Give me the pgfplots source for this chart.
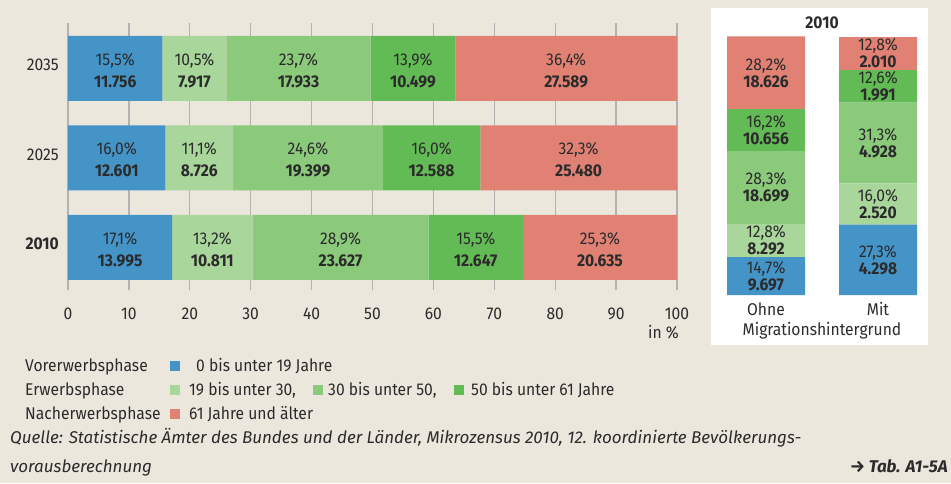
\documentclass[border=0pt]{standalone}
\usepackage{pgfplots}
\pgfplotsset{compat=1.18}
\usepackage{pgfplotstable}
\usepackage{fontspec}
\setmainfont{Fira Sans}[FakeStretch=0.92]
\newfontfamily\srcfont{Fira Sans}
\definecolor{bg}{HTML}{ECE7DD}
\definecolor{cA}{HTML}{4494C8}
\definecolor{cB}{HTML}{A9D69B}
\definecolor{cC}{HTML}{8BC97B}
\definecolor{cD}{HTML}{63BB55}
\definecolor{cE}{HTML}{E08174}
\definecolor{txt}{HTML}{2B2B2B}
\definecolor{gridc}{HTML}{B2B2B2}
\pgfplotsset{/pgf/number format/assume math mode=true}

\pgfplotstableread{
pos pA aA pB aB pC aC pD aD pE aE
0 17.1 13.995 13.2 10.811 28.9 23.627 15.5 12.647 25.3 20.635
1 16.0 12.601 11.1 8.726 24.6 19.399 16.0 12.588 32.3 25.480
2 15.5 11.756 10.5 7.917 23.7 17.933 13.9 10.499 36.4 27.589
}\lefttab
\pgfplotstableread{
pos pA aA pB aB pC aC pD aD pE aE
0 14.7 9.697 12.8 8.292 28.3 18.699 16.2 10.656 28.2 18.626
1 27.3 4.298 16.0 2.520 31.3 4.928 12.6 1.991 12.8 2.010
}\righttab

\newcommand{\pct}[1]{\pgfmathprintnumber[fixed,fixed zerofill,precision=1,use comma]{#1}\%}
\newcommand{\fs}{\fontsize{17}{20}\selectfont}
\pgfplotsset{
  lbl/.style 2 args={
    only marks, mark=none,
    visualization depends on={\thisrow{#1}\as\pv},
    point meta=explicit symbolic,
    nodes near coords={\pct{\pv}\\\textbf{\pgfplotspointmeta}},
    every node near coord/.append style={anchor=center, align=center, inner sep=0pt,
      text=txt, font=\fontsize{17}{#2}\selectfont},
  },
}

\begin{document}
\begin{tikzpicture}
\fill[bg] (0pt,0pt) rectangle (951pt,-483pt);
\useasboundingbox (0pt,0pt) rectangle (951pt,-483pt);
\fill[white] (711pt,-8pt) rectangle (928pt,-345pt);

% left chart: bars
\begin{axis}[
  at={(68pt,-290pt)}, anchor=south west,
  scale only axis, width=609pt, height=267pt,
  xbar stacked, bar width=65pt,
  xmin=0, xmax=100, ymin=-0.475, ymax=2.508,
  xtick={0,10,...,100}, ytick={0,1,2},
  yticklabels={\textbf{2010},2025,2035},
  xmajorgrids, grid style={gridc, line width=1.3pt},
  axis line style={draw=none}, tick style={draw=none},
  tick label style={font=\fs, text=txt},
  xticklabel style={anchor=center, inner sep=0pt, yshift=-23.5pt},
  yticklabel style={anchor=east, inner sep=0pt, xshift=-9pt, yshift=3.5pt},
  xlabel={in \%},
  xlabel style={at={(axis description cs:1,0)}, anchor=base east, inner sep=0pt,
    yshift=-48pt, xshift=2pt, font=\fs, text=txt},
  clip=false,
]
\addplot[fill=cA, draw=none] table[x=pA, y=pos] {\lefttab};
\addplot[fill=cB, draw=none] table[x=pB, y=pos] {\lefttab};
\addplot[fill=cC, draw=none] table[x=pC, y=pos] {\lefttab};
\addplot[fill=cD, draw=none] table[x=pD, y=pos] {\lefttab};
\addplot[fill=cE, draw=none] table[x=pE, y=pos] {\lefttab};
\end{axis}
% left chart: segment labels
\begin{axis}[
  at={(68pt,-290pt)}, anchor=south west,
  scale only axis, width=609pt, height=267pt,
  xmin=0, xmax=100, ymin=-0.475, ymax=2.508,
  hide axis, clip=false,
  every node near coord/.append style={yshift=-2pt},
]
\addplot[lbl={pA}{22}] table[x expr={\thisrow{pA}/2}, y=pos, meta=aA] {\lefttab};
\addplot[lbl={pB}{22}] table[x expr={\thisrow{pA}+\thisrow{pB}/2}, y=pos, meta=aB] {\lefttab};
\addplot[lbl={pC}{22}] table[x expr={\thisrow{pA}+\thisrow{pB}+\thisrow{pC}/2}, y=pos, meta=aC] {\lefttab};
\addplot[lbl={pD}{22}] table[x expr={\thisrow{pA}+\thisrow{pB}+\thisrow{pC}+\thisrow{pD}/2}, y=pos, meta=aD] {\lefttab};
\addplot[lbl={pE}{22}] table[x expr={\thisrow{pA}+\thisrow{pB}+\thisrow{pC}+\thisrow{pD}+\thisrow{pE}/2}, y=pos, meta=aE] {\lefttab};
\end{axis}

% right chart: bars
\begin{axis}[
  at={(710pt,-295pt)}, anchor=south west,
  scale only axis, width=224pt, height=258pt,
  ybar stacked, bar width=78pt,
  xmin=-0.5, xmax=1.5, ymin=0, ymax=100,
  xtick={0,1}, xticklabels={Ohne,Mit}, ytick=\empty,
  axis line style={draw=none}, tick style={draw=none},
  tick label style={font=\fs, text=txt},
  xticklabel style={anchor=base, inner sep=0pt, yshift=-20pt},
  xlabel={Migrationshintergrund},
  xlabel style={at={(axis description cs:0.5,0)}, anchor=base, inner sep=0pt,
    yshift=-40pt, font=\fs, text=txt},
  title={\textbf{2010}},
  title style={at={(axis description cs:0.5,1)}, anchor=base, inner sep=0pt,
    yshift=2.7pt, font=\fs, text=txt},
  clip=false,
]
\addplot[fill=cA, draw=none] table[x=pos, y=pA] {\righttab};
\addplot[fill=cB, draw=none] table[x=pos, y=pB] {\righttab};
\addplot[fill=cC, draw=none] table[x=pos, y=pC] {\righttab};
\addplot[fill=cD, draw=none] table[x=pos, y=pD] {\righttab};
\addplot[fill=cE, draw=none] table[x=pos, y=pE] {\righttab};
\end{axis}
% right chart: segment labels
\begin{axis}[
  at={(710pt,-295pt)}, anchor=south west,
  scale only axis, width=224pt, height=258pt,
  xmin=-0.5, xmax=1.5, ymin=0, ymax=100,
  hide axis, clip=false,
]
\addplot[lbl={pA}{17}] table[x=pos, y expr={\thisrow{pA}/2}, meta=aA] {\righttab};
\addplot[lbl={pB}{17}] table[x=pos, y expr={\thisrow{pA}+\thisrow{pB}/2}, meta=aB] {\righttab};
\addplot[lbl={pC}{17}] table[x=pos, y expr={\thisrow{pA}+\thisrow{pB}+\thisrow{pC}/2}, meta=aC] {\righttab};
\addplot[lbl={pD}{17}] table[x=pos, y expr={\thisrow{pA}+\thisrow{pB}+\thisrow{pC}+\thisrow{pD}/2}, meta=aD] {\righttab};
\addplot[lbl={pE}{17}] table[x=pos, y expr={\thisrow{pA}+\thisrow{pB}+\thisrow{pC}+\thisrow{pD}+\thisrow{pE}/2}, meta=aE] {\righttab};
\end{axis}

% legend
\begin{scope}[every node/.style={inner sep=0pt, anchor=base west, font=\fs, text=txt}]
\node at (25pt,-371pt) {Vorerwerbsphase};
\node at (25pt,-395pt) {Erwerbsphase};
\node at (25pt,-419pt) {Nacherwerbsphase};
\fill[cA] (170pt,-361pt) rectangle (180pt,-371pt);
\node at (196pt,-371pt) {0 bis unter 19 Jahre};
\fill[cB] (170pt,-385pt) rectangle (180pt,-395pt);
\node at (189pt,-395pt) {19 bis unter 30,};
\fill[cC] (313pt,-385pt) rectangle (323pt,-395pt);
\node at (328pt,-395pt) {30 bis unter 50,};
\fill[cD] (454pt,-385pt) rectangle (464pt,-395pt);
\node at (471pt,-395pt) {50 bis unter 61 Jahre};
\fill[cE] (170pt,-409pt) rectangle (180pt,-419pt);
\node at (189pt,-419pt) {61 Jahre und älter};
\node[font=\srcfont\fontsize{17}{20}\selectfont] at (10pt,-443pt) {\itshape Quelle: Statistische Ämter des Bundes und der Länder, Mikrozensus 2010, 12. koordinierte Bevölkerungs-};
\node[font=\srcfont\fontsize{17}{20}\selectfont] at (10pt,-472pt) {\itshape vorausberechnung};
\node[anchor=base east, font=\srcfont\fontsize{17}{20}\selectfont] at (948pt,-472pt) {\bfseries\itshape → Tab. A1-5A};
\end{scope}
\end{tikzpicture}
\end{document}
